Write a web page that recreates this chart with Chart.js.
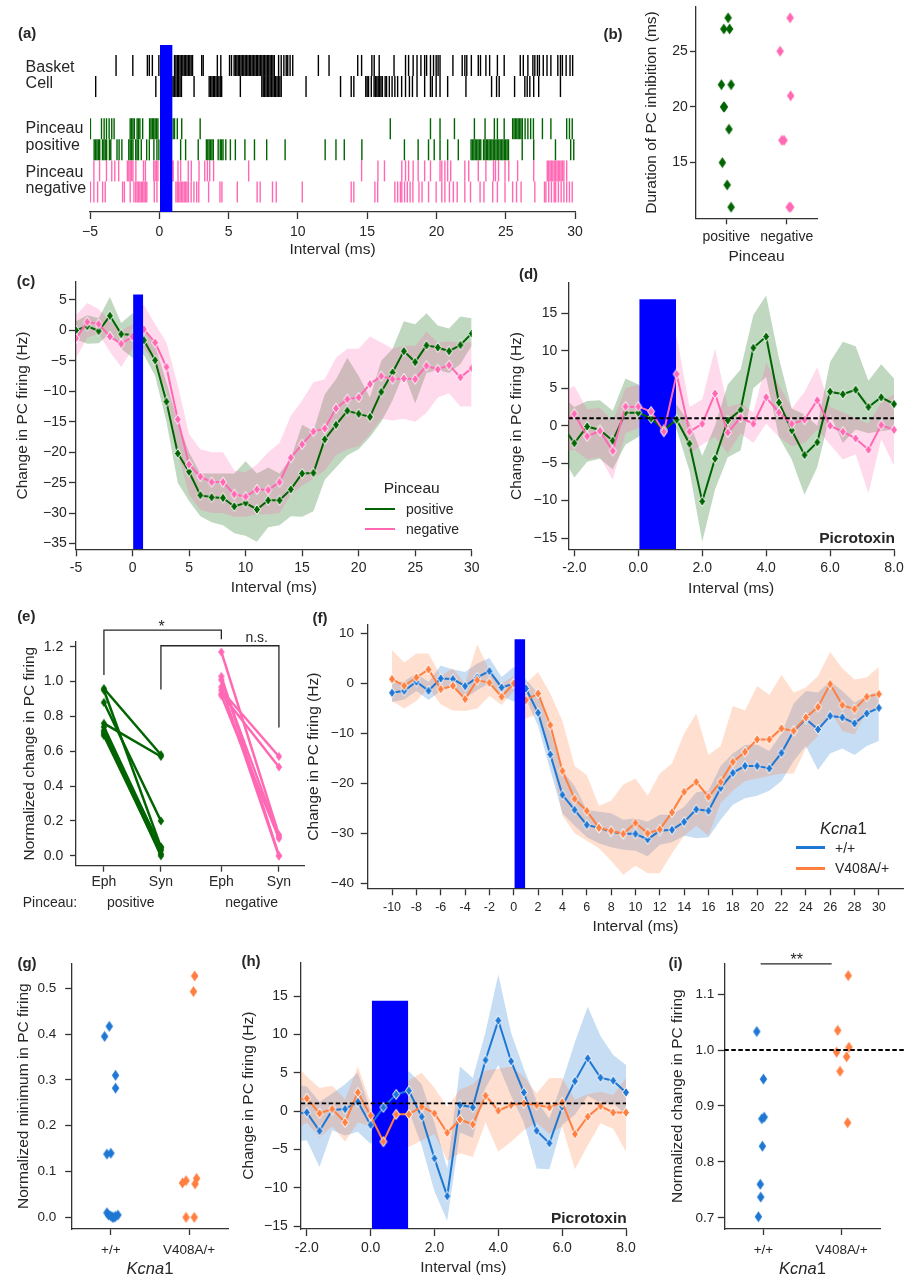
<!DOCTYPE html>
<html><head><meta charset="utf-8">
<script src="https://cdn.jsdelivr.net/npm/chart.js@4.4.1/dist/chart.umd.min.js"></script>
<style>
html,body{margin:0;padding:0;background:#fff;}
#fig{position:relative;width:904px;height:1276px;overflow:hidden;font-family:'Liberation Sans',Arial,Helvetica,sans-serif;color:#262626;}
#fig canvas{position:absolute;left:0;top:0;}
.t{position:absolute;white-space:nowrap;line-height:1;}
.lg{position:absolute;height:2.5px;}
</style></head><body><div id="fig"></div>
<script>
// ---------------- DATA ----------------
// (a) raster spike times (ms)
const aBasket1 = [-3.12,-1.91,-0.86,-0.72,-0.5,-0.03,0.66,1.1,1.2,1.3,1.4,1.5,1.6,1.7,1.8,1.9,2.0,2.1,2.2,2.3,2.4,3.06,3.17,4.19,4.44,5.07,5.21,5.4,5.5,5.6,5.7,5.8,5.9,6.0,6.1,6.2,6.3,6.4,6.5,6.6,6.7,6.8,6.9,7.0,7.1,7.2,7.3,7.4,7.5,7.6,7.7,7.8,7.9,8.0,8.1,8.2,8.3,8.61,8.8,8.99,9.16,9.27,9.44,9.63,11.48,12.25,14.32,14.6,15.34,15.51,15.87,16.94,17.77,17.99,18.32,18.6,18.88,19.15,19.29,19.57,19.79,19.98,20.12,20.26,21.19,21.86,22.05,22.19,22.52,23.02,23.18,23.57,23.84,24.4,24.89,26.05,26.27,26.6,26.96,27.1,27.29,27.43,27.71,27.98,28.26,28.76,28.95,29.09,29.36,29.64,29.83];
const aBasket2 = [-4.59,-0.25,0.8,0.9,1.0,1.1,1.2,1.3,1.4,1.5,1.6,2.51,3.6,3.7,3.8,3.9,4.0,4.1,4.2,4.3,4.4,4.5,5.85,7.4,7.5,7.6,7.7,7.8,7.9,8.0,8.1,8.2,8.3,8.4,8.5,8.6,8.7,8.8,10.59,13.08,13.85,14.04,14.9,15.0,15.1,15.3,15.5,15.6,15.7,15.8,15.9,16.0,16.1,16.3,16.4,16.6,16.8,17.0,17.2,17.49,17.77,18.05,18.27,18.6,19.15,19.57,19.7,19.98,20.26,20.81,22.13,23.98,24.34,24.53,25.64,26.38,26.55,26.74,27.02,27.38,28.95];
const aPos1 = [-4.97,-4.17,-3.98,-3.81,-3.62,-3.43,-3.26,-2.1,-2.0,-1.9,-1.8,-1.6,-1.5,-1.4,-1.2,-0.7,-0.6,-0.5,-0.4,-0.3,-0.2,-0.1,0.6,0.8,1.0,1.1,1.3,1.62,2.95,16.67,19.57,20.26,21.3,22.74,23.51,24.18,24.4,24.89,25.5,25.6,25.7,25.8,25.9,26.0,26.1,26.2,26.4,26.6,26.8,27.0,27.65,28.26,29.4,29.6,29.8];
const aPos2 = [-4.7,-4.6,-4.5,-4.4,-4.3,-4.1,-4.0,-3.9,-3.8,-3.6,-3.5,-3.05,-2.9,-2.7,-2.2,-2.1,-2.0,-1.9,-1.7,-1.6,-1.5,-1.3,-0.91,-0.72,-0.39,-0.17,-0.03,0.77,1.54,1.9,2.81,3.4,3.5,3.6,3.7,3.8,3.9,4.25,4.4,4.5,4.6,4.8,5.13,5.49,6.18,6.87,7.75,9.08,11.97,12.75,13.35,14.62,17.69,18.68,19.43,19.84,20.26,20.81,21.58,22.5,22.6,22.7,22.8,22.9,23.0,23.1,23.2,23.4,23.5,23.6,23.7,23.8,23.9,24.0,24.1,24.2,24.3,24.4,24.5,24.6,24.7,24.8,24.9,25.0,25.1,25.2,26.19,27.02,28.59,29.69,29.91];
const aNeg1 = [-4.72,-4.31,-3.81,-3.43,-3.21,-2.93,-2.3,-2.2,-2.1,-2.0,-1.9,-1.69,-1.14,-1.0,-0.4,-0.3,-0.2,-0.1,0.9,1.0,1.35,1.54,2.09,2.31,2.87,3.28,3.47,3.64,3.92,6.45,14.6,15.78,16.25,17.5,17.77,17.99,18.32,18.68,19.15,19.57,20.26,20.39,20.61,20.81,21.03,22.05,22.33,23.02,23.57,24.12,24.26,24.48,24.95,25.22,25.86,27.02,28.0,28.1,28.2,28.3,28.4,28.5,28.6,28.7,28.8,28.9,29.0,29.1,29.2,29.4];
const aNeg2 = [-4.97,-4.72,-4.45,-4.09,-3.9,-2.65,-2.52,-2.1,-1.83,-1.7,-1.6,-1.5,-1.4,-1.3,-1.2,-1.1,-1.0,-0.9,-0.36,-0.17,0.38,0.8,1.2,1.3,1.4,1.5,1.6,1.7,1.8,1.9,2.0,2.1,2.3,2.5,2.7,2.85,3.56,4.38,4.52,5.63,7.06,7.28,8.17,8.44,10.32,13.85,14.04,15.56,15.76,17.0,17.2,17.4,17.5,17.7,17.9,18.1,18.3,18.74,18.96,19.43,19.98,20.39,20.61,20.94,21.22,21.5,22.05,22.46,23.15,23.43,24.06,24.4,24.95,25.5,25.78,26.11,27.1,27.8,27.9,28.1,28.3,28.5,28.6,28.8,29.0,29.2,29.4,29.6,29.8];
const aXTicks = [-5,0,5,10,15,20,25,30];
const aXLabels = ['\u22125','0','5','10','15','20','25','30'];

// (b) duration of PC inhibition (ms), strip plot with jitter
const bCategories = ['positive','negative'];
const bPos = [28,27,27,22,22,20,20,18,15,13,11];
const bPosJit = [0.03,-0.04,0.055,-0.08,0.08,-0.045,-0.03,0.045,-0.065,0.015,0.08];
const bNeg = [28,25,21,17,17,11,11];
const bNegJit = [0.055,-0.11,0.065,-0.08,-0.045,0.04,0.065];
const bYTicks = [15,20,25];
const bYLabels = ['15','20','25'];

// (c) change in PC firing, pinceau positive / negative
const cX = [-5,-4,-3,-2,-1,0,1,2,3,4,5,6,7,8,9,10,11,12,13,14,15,16,17,18,19,20,21,22,23,24,25,26,27,28,29,30];
const cPos = [0,0.7,-0.1,2.4,-0.6,-0.75,-1.6,-4.9,-11.7,-20.2,-23.2,-27.05,-27.4,-27.5,-28.9,-28.3,-29.4,-27.9,-27.9,-26.1,-23.5,-23.4,-17.9,-15.5,-13.2,-13.7,-14.2,-10.1,-6.9,-3.4,-5.2,-2.45,-2.8,-3.4,-2.4,-0.5];
const cPosHi = [1.5,2.5,2.0,5.5,1.2,2.8,0.5,-2.5,-8.5,-15,-20,-23.5,-23.5,-23.5,-23.5,-21.5,-23.5,-22.5,-23.5,-21,-15.5,-16.5,-10.5,-8,-4.5,-7.5,-11,-5,-3,1.5,1,2.8,0.8,0.3,2.3,2];
const cPosLo = [-1.5,-2.2,-2.1,-0.5,-3,-4.5,-4.0,-7.5,-15,-25,-28,-30.5,-31.5,-32,-33.3,-33.7,-34.7,-32.3,-32,-30.5,-30.6,-29.7,-24.5,-22.5,-20.5,-19.5,-17.5,-15,-11.5,-7,-12,-7,-6.5,-7,-5.5,-2.5];
const cNeg = [-1.3,1.4,1.05,-1.0,-2.2,-1.0,0.2,-2.0,-6.0,-14.6,-22.0,-24.0,-24.9,-24.9,-26.9,-27.3,-26.1,-26.2,-24.9,-20.9,-18.7,-16.6,-16.1,-12.8,-11.3,-11.0,-8.8,-7.5,-8.0,-7.9,-8.0,-5.8,-6.4,-5.7,-7.7,-6.2];
const cNegHi = [2.5,4.5,3.5,1.5,0,1,4.2,1,-2,-9,-17,-19.5,-20,-20,-23,-23.3,-22,-20,-18.5,-14,-11.5,-8.5,-8,-4.5,-3,-3,-1,-2,-3,-2.5,-2.5,-0.2,-2,-1.8,-2,-2];
const cNegLo = [-4.5,-1.2,-0.5,-3.5,-6,-3,-3,-5.5,-10,-20,-27,-29.5,-30,-30,-30.6,-30.6,-30.2,-30.2,-30,-27,-25.5,-24.3,-23,-20.5,-19.5,-19,-17,-14.5,-14.8,-14.5,-15,-13.5,-11,-10.3,-12.5,-12.5];
const cXTicks = [-5,0,5,10,15,20,25,30];
const cXLabels = ['-5','0','5','10','15','20','25','30'];
const cYTicks = [-35,-30,-25,-20,-15,-10,-5,0,5];
const cYLabels = ['\u221235','\u221230','\u221225','\u221220','\u221215','\u221210','\u22125','0','5'];

// (d) picrotoxin, pinceau positive / negative
const dX = [-2.4,-2.0,-1.6,-1.2,-0.8,-0.4,0.0,0.4,0.8,1.2,1.6,2.0,2.4,2.8,3.2,3.6,4.0,4.4,4.8,5.2,5.6,6.0,6.4,6.8,7.2,7.6,8.0];
const dPos = [0.1,-2.33,-0.1,-0.56,-2.0,1.75,1.75,1.0,-0.55,0.8,-2.4,-10.1,-4.4,0.7,2.1,10.4,11.9,3.1,-0.6,-3.9,-2.2,4.55,4.2,4.8,2.5,3.8,2.9];
const dPosHi = [4,2.5,3.3,3.4,2,6.3,5.5,3,2,2.8,0.5,-4,0,5.5,7.5,14.8,17.4,9,2.3,1.5,0,8.5,11.2,10.6,6,8.2,6.3];
const dPosLo = [-4,-6.9,-4.8,-4.4,-5.8,-2.5,-1.5,0.3,-2,-0.5,-6,-15.5,-8.5,-4.2,-3.3,5,6.5,-1.5,-4.5,-9.2,-5.5,1.5,-2.3,-0.5,-1,-0.7,-0.5];
const dNeg = [0.1,1.6,-1.4,-0.7,-3.35,2.55,2.55,1.9,-0.8,6.9,-0.8,0.25,4.3,-0.9,1.1,0.25,3.8,1.75,0.25,0.8,3.4,0.0,-0.8,-1.7,-3.2,0.1,-0.55];
const dNegHi = [4.5,5.3,2.2,2.4,0.6,5,5.5,3.2,1.5,12,2.5,3.5,10.3,2.5,3,1.8,8.4,5.5,2.3,4.5,7.8,2.5,1.8,1,0.3,3.1,4.2];
const dNegLo = [-3.5,-3.2,-4.5,-4.2,-7.2,-1,-0.3,0.7,-1.7,2,-3.7,-2.5,-1.5,-3.7,-1,-2.3,0.3,-1.5,-2.7,-2.3,-0.5,-2.5,-4.5,-3.8,-9,-1.8,-5.3];
const pxXTicks = [-2,0,2,4,6,8];
const pxXLabels = ['-2.0','0.0','2.0','4.0','6.0','8.0'];
const pxYTicks = [-15,-10,-5,0,5,10,15];
const pxYLabels = ['\u221215','\u221210','\u22125','0','5','10','15'];
const baseline = 1;

// (e) normalized change, paired Eph -> Syn
const eCategories = ['Eph','Syn','Eph','Syn'];
const eCatPos = [0,1,2.06,3.07];
const ePosEph = [0.96,0.95,0.88,0.76,0.74,0.72,0.71,0.70,0.69];
const ePosSyn = [0.58,0.05,0.20,0.57,0.04,0.03,0.00,0.05,0.01];
const eNegEph = [1.17,1.03,1.01,0.97,0.95,0.93,0.92];
const eNegSyn = [0.12,0.00,0.11,0.00,0.57,0.51,0.10];
const eYTicks = [0,0.2,0.4,0.6,0.8,1.0,1.2];
const eYLabels = ['0.0','0.2','0.4','0.6','0.8','1.0','1.2'];

// (f) Kcna1 +/+ vs V408A/+
const fX = [-10,-9,-8,-7,-6,-5,-4,-3,-2,-1,0,1,2,3,4,5,6,7,8,9,10,11,12,13,14,15,16,17,18,19,20,21,22,23,24,25,26,27,28,29,30];
const fWT = [-1.87,-1.47,0.33,-1.47,1.0,0.87,-0.53,1.2,2.47,-0.8,0,-1.0,-5.87,-14.2,-22.3,-25.3,-28.3,-28.9,-29.7,-30.1,-30.1,-31.2,-29.5,-29.3,-27.7,-25.2,-25.5,-20.9,-17.9,-16.5,-16.5,-17.0,-13.9,-9.5,-7.1,-9.2,-6.5,-6.8,-8.0,-6.0,-4.9];
const fWTHi = [0,0.5,2.0,0.3,3.6,2.8,2.3,4.0,5.1,1.3,3.3,0.8,-2.0,-9.5,-17.5,-20.5,-25.3,-25.7,-26.0,-27.3,-27.0,-27.7,-26.3,-26.3,-24.7,-21.8,-21.5,-16.5,-14.0,-12.3,-12.2,-13.5,-10.0,-4.0,-1.5,-1.8,0.5,-1.5,-3.8,-2.5,-1.5];
const fWTLo = [-3.7,-3.2,-1.5,-3.3,-1.5,-0.6,-3.0,-1.3,0.0,-2.5,-3.6,-3.0,-8.5,-17.3,-26.0,-28.5,-30.8,-32.0,-32.8,-33.3,-33.5,-34.6,-32.3,-31.8,-30.5,-31.0,-30.8,-27.3,-24.3,-23.0,-22.5,-21.5,-19.5,-15.5,-12.5,-17.3,-14.0,-13.0,-14.3,-12.5,-11.5];
const fMut = [0.87,-0.47,1.2,2.8,-1.13,-0.47,-3.13,0.67,0.13,-2.67,0,-3.33,-2.0,-8.33,-17.5,-23.1,-25.5,-28.9,-29.5,-30.1,-27.9,-30.0,-29.2,-25.8,-21.7,-19.7,-22.7,-19.7,-15.7,-13.7,-11.2,-11.2,-9.0,-9.5,-6.8,-4.7,-0.13,-4.33,-5.13,-2.67,-2.13];
const fMutHi = [6.7,4.2,6.0,6.0,1.5,3.0,0,7.8,2.7,0,1.5,0,2.3,-2.0,-7.5,-16.5,-18.3,-24.5,-23.5,-20.2,-19.0,-22.5,-18.0,-16.0,-10.0,-6.0,-14.3,-12.5,-4.5,-5.4,-0.5,-2.3,1.7,-1.8,-0.8,1.5,6.3,3.0,0.8,1.2,3.3];
const fMutLo = [-3.5,-5.0,-3.5,-0.8,-4.2,-5.4,-5.5,-5.0,-2.5,-4.3,-1.5,-7.0,-6.0,-13.5,-26.5,-30.0,-31.5,-33.0,-35.5,-38.3,-36.5,-38.0,-38.0,-34.0,-30.5,-28.5,-30.5,-24.0,-21.5,-19.5,-19.0,-18.5,-18.0,-18.0,-13.0,-10.5,-5.5,-9.5,-10.2,-5.5,-5.3];
const fXTicks = [-10,-8,-6,-4,-2,0,2,4,6,8,10,12,14,16,18,20,22,24,26,28,30];
const fXLabels = ['-10','-8','-6','-4','-2','0','2','4','6','8','10','12','14','16','18','20','22','24','26','28','30'];
const fYTicks = [-40,-30,-20,-10,0,10];
const fYLabels = ['\u221240','\u221230','\u221220','\u221210','0','10'];

// (g) normalized minimum
const gCategories = ['+/+','V408A/+'];
const gWT = [0.395,0.417,0.310,0.282,0.138,0.140,0.010,0.005,0.003,0.000,0.002,0.005,0.000];
const gWTJit = [-0.08,-0.02,0.06,0.06,-0.05,0.0,-0.05,-0.03,0.0,0.04,0.06,0.09,0.02];
const gMut = [0.527,0.493,0.075,0.080,0.073,0.085,0.000,0.000];
const gMutJit = [0.07,0.055,-0.085,-0.04,0.075,0.095,-0.04,0.065];
const gYTicks = [0,0.1,0.2,0.3,0.4,0.5];
const gYLabels = ['0.0','0.1','0.2','0.3','0.4','0.5'];

// (h) picrotoxin, Kcna1
const hX = [-2.4,-2.0,-1.6,-1.2,-0.8,-0.4,0.0,0.4,0.8,1.2,1.6,2.0,2.4,2.8,3.2,3.6,4.0,4.4,4.8,5.2,5.6,6.0,6.4,6.8,7.2,7.6,8.0];
const hWT = [-0.4,-0.17,-2.6,0.13,0.26,1.2,-1.8,0.48,2.17,2.65,-0.74,-6.17,-11.1,0.78,0.48,6.65,11.8,6.5,2.43,-2.57,-4.2,0.57,3.9,6.87,4.35,3.96,2.43];
const hWTHi = [3.5,3.2,1.2,2.3,3.5,5.0,0,2.2,3.0,5.2,3.5,-1.5,-7.5,5.8,4.3,10.3,17.8,10.2,5.5,1.3,-1.0,3.8,9.0,13.6,9.8,7.3,6.0];
const hWTLo = [-4,-3.8,-7.3,-2.5,-3.2,-2.7,-4.3,-1.5,1.3,0,-4.5,-10.5,-14.3,-2.8,-3.5,3.0,6.0,2.0,-1.5,-7.5,-7.6,-1.8,-0.5,2.0,1.0,1.0,-0.5];
const hMut = [1.4,1.65,-0.3,0.26,-1.48,2.43,-0.6,-4.0,-0.43,-0.43,0.57,-0.3,-2.83,-1.1,-1.74,2.0,0.04,0.78,1.0,0.78,0.48,1.13,-3.0,-0.74,0.65,-0.2,-0.2];
const hMutHi = [6.3,4.5,3.0,3.3,1.5,5.8,1.0,-1.5,2.0,4.0,5.0,3.0,0.5,2.8,3.5,5.3,5.5,5.8,4.5,2.3,4.3,4.3,1.5,2.2,2.5,2.1,4.3];
const hMutLo = [-2.5,-1.5,-3.5,-2.0,-4.0,-1.5,-2.0,-5.0,-2.5,-4.7,-3.8,-3.0,-6.5,-5.5,-6.0,-1.5,-5.3,-4.0,-2.5,-1.5,-3.0,-2.0,-7.6,-4.5,-1.6,-2.3,-5.3];

// (i) normalized change
const iWT = [1.033,0.948,0.877,0.880,0.828,0.760,0.737,0.702];
const iWTJit = [-0.085,0.0,-0.02,0.01,-0.013,-0.04,-0.034,-0.064];
const iMut = [1.133,1.035,0.996,1.005,0.988,0.962,0.870];
const iMutJit = [0.085,-0.05,-0.064,0.094,0.064,-0.02,0.077];
const iYTicks = [0.7,0.8,0.9,1.0,1.1];
const iYLabels = ['0.7','0.8','0.9','1.0','1.1'];

// ---------------- STYLE / HELPERS ----------------
const FW = 904, FH = 1276;
const fig = document.getElementById('fig');
const GREEN = '#006400', PINK = '#ff69b4', BLUE = '#1f77d4', ORANGE = '#ff7f41', STIM = '#0000ff', INK = '#262626';
Chart.defaults.font.family = "'Liberation Sans', Arial, Helvetica, sans-serif";
Chart.defaults.color = INK;
function rgba(hex, a) { const n = parseInt(hex.slice(1), 16); return `rgba(${n >> 16},${(n >> 8) & 255},${n & 255},${a})`; }
function diamond(color, w, h, edge) {
  const pad = edge ? 1.5 : 0.5;
  const c = document.createElement('canvas');
  c.width = Math.ceil(w + 2 * pad); c.height = Math.ceil(h + 2 * pad);
  const g = c.getContext('2d'); const cx = c.width / 2, cy = c.height / 2;
  g.beginPath(); g.moveTo(cx, cy - h / 2); g.lineTo(cx + w / 2, cy); g.lineTo(cx, cy + h / 2); g.lineTo(cx - w / 2, cy); g.closePath();
  g.fillStyle = color; g.fill();
  if (edge) { g.strokeStyle = '#fff'; g.lineWidth = edge; g.stroke(); }
  return c;
}
const mk = {
  gL: diamond(GREEN, 7, 10, 1), pL: diamond(PINK, 7, 10, 1), bL: diamond(BLUE, 7, 10, 1), oL: diamond(ORANGE, 7, 10, 1),
  gS: diamond(GREEN, 7.5, 11, 0), pS: diamond(PINK, 7.5, 11, 0), bS: diamond(BLUE, 7.5, 11, 0), oS: diamond(ORANGE, 7.5, 11, 0),
  gE: diamond(GREEN, 6.5, 9, 0), pE: diamond(PINK, 6.5, 9, 0)
};
function pts(xs, ys) { return xs.map((x, i) => ({ x, y: ys[i] })); }
function band(xs, hi, lo, color, order, clip) {
  return [
    { data: pts(xs, hi), borderWidth: 0, pointRadius: 0, fill: '+1', backgroundColor: rgba(color, 0.25), order, clip },
    { data: pts(xs, lo), borderWidth: 0, pointRadius: 0, fill: false, order, clip }
  ];
}
function line(xs, ys, color, marker, order, clip) {
  return { data: pts(xs, ys), borderColor: color, borderWidth: 2, pointStyle: marker, pointRadius: 4, fill: false, order, clip, tension: 0 };
}
function stim(x0, x1, top, order) {
  return { data: [{ x: x0, y: top }, { x: x1, y: top }], borderWidth: 0, pointRadius: 0, fill: 'start', backgroundColor: STIM, order };
}
function dashed(x0, x1, y, order, clip) {
  return { data: [{ x: x0, y }, { x: x1, y }], borderColor: '#000', borderWidth: 1.8, borderDash: [4.5, 2.5], pointRadius: 0, fill: false, order, clip };
}
function strip(vals, jit, center, marker) {
  return { data: vals.map((v, i) => ({ x: center + jit[i], y: v })), showLine: false, pointStyle: marker, pointRadius: 5, order: 1 };
}
function axis(o) {
  return {
    type: 'linear', bounds: 'data', min: o.min, max: o.max,
    afterBuildTicks: s => { s.ticks = (o.ticks || []).map(v => ({ value: v })); },
    afterFit: s => { if (o.w != null) s.width = o.w; if (o.h != null) s.height = o.h; s.paddingLeft = 0; s.paddingRight = 0; s.paddingTop = 0; s.paddingBottom = 0; },
    ticks: { display: !!(o.ticks && o.ticks.length), autoSkip: false, maxRotation: 0, minRotation: 0, padding: o.pad ?? 3, font: { size: o.size ?? 13.5 }, color: INK, callback: (v, i) => (o.labels || [])[i] },
    grid: { display: o.line !== false, drawOnChartArea: false, drawTicks: true, tickLength: o.tl ?? 7, tickColor: '#333', tickWidth: 1.3, color: '#333' },
    border: { display: o.line !== false, color: '#333', width: 1.3 },
    title: { display: !!o.title, text: o.title || '', font: { size: 15.5, lineHeight: 1 }, padding: 0, color: INK }
  };
}
const TLH = 15.5;
function panel(spec) {
  const c = document.createElement('canvas'); c.width = FW; c.height = FH;
  c.style.width = FW + 'px'; c.style.height = FH + 'px'; fig.appendChild(c);
  const b = spec.box;
  const padLeft = spec.yTitleX != null ? spec.yTitleX - TLH / 2 : b.L - 30;
  const bottom = spec.xTitleY != null ? spec.xTitleY + TLH / 2 : Math.min(FH, b.B + 40);
  new Chart(c, {
    type: 'line',
    data: { datasets: spec.datasets },
    options: {
      responsive: false, devicePixelRatio: 1, animation: false, events: [],
      layout: { autoPadding: false, padding: { left: padLeft, top: b.T, right: FW - b.R, bottom: FH - bottom } },
      plugins: { legend: { display: false }, tooltip: { enabled: false } },
      scales: { x: axis(Object.assign({}, spec.x, { h: bottom - b.B })), y: axis(Object.assign({}, spec.y, { w: b.L - padLeft })) }
    },
    plugins: spec.plugins || []
  });
}
function polyPlugin(polys, width) {
  return { id: 'poly', afterDatasetsDraw(chart) {
    const { ctx, scales: { x, y } } = chart; ctx.save(); ctx.strokeStyle = INK; ctx.lineWidth = width;
    polys.forEach(p => { ctx.beginPath(); p.forEach(([vx, vy], i) => { const px = x.getPixelForValue(vx), py = y.getPixelForValue(vy); if (i) ctx.lineTo(px, py); else ctx.moveTo(px, py); }); ctx.stroke(); });
    ctx.restore(); } };
}
function txt(x, y, html, size, o = {}) {
  const d = document.createElement('div'); d.className = 't'; d.innerHTML = html;
  d.style.left = x + 'px'; d.style.top = y + 'px'; d.style.fontSize = size + 'px';
  if (o.bold) d.style.fontWeight = 'bold';
  const ax = o.align === 'left' ? '0' : o.align === 'right' ? '-100%' : '-50%';
  d.style.transform = `translate(${ax},-50%)`;
  fig.appendChild(d);
}
function legLine(x0, x1, y, color) {
  const d = document.createElement('div'); d.className = 'lg';
  d.style.left = x0 + 'px'; d.style.width = (x1 - x0) + 'px'; d.style.top = (y - 1.25) + 'px'; d.style.background = color; fig.appendChild(d);
}

// ---------------- (a) raster ----------------
const aRows = [
  { times: aBasket1, row: 6, color: '#000' }, { times: aBasket2, row: 5, color: '#000' },
  { times: aPos1, row: 3, color: GREEN }, { times: aPos2, row: 2, color: GREEN },
  { times: aNeg1, row: 1, color: PINK }, { times: aNeg2, row: 0, color: PINK }
];
panel({
  box: { L: 90, T: 45, R: 575, B: 212 }, xTitleY: 250,
  x: { min: -5, max: 30, ticks: aXTicks, labels: aXLabels, title: 'Interval (ms)', pad: 4.3, size: 14 },
  y: { min: -0.95, max: 6.97, line: false },
  datasets: [stim(0.05, 0.96, 6.97, 1)].concat(aRows.map(r => ({
    data: r.times.map(t => ({ x: t, y: r.row })), showLine: false, pointStyle: 'line', pointRotation: 90,
    pointRadius: 10.5, pointBorderWidth: 1.4, pointBorderColor: r.color, borderColor: r.color, order: 5
  })))
});

// ---------------- (b) ----------------
panel({
  box: { L: 696, T: 6.7, R: 817, B: 218.3 }, yTitleX: 651.7, xTitleY: 256.7,
  x: { min: -0.5, max: 1.5, ticks: [0, 1], labels: bCategories, title: 'Pinceau', pad: 4.3, tl: 6, size: 14 },
  y: { min: 10, max: 29, ticks: bYTicks, labels: bYLabels, title: 'Duration of PC inhibition (ms)', pad: 2.3, tl: 6, size: 14 },
  datasets: [strip(bPos, bPosJit, 0, mk.gS), strip(bNeg, bNegJit, 1, mk.pS)]
});

// ---------------- (c) ----------------
panel({
  box: { L: 76, T: 281.7, R: 471.7, B: 549.3 }, yTitleX: 23, xTitleY: 588,
  x: { min: -5, max: 30, ticks: cXTicks, labels: cXLabels, title: 'Interval (ms)', pad: 3.6, size: 14 },
  y: { min: -35.94, max: 8.0, ticks: cYTicks, labels: cYLabels, title: 'Change in PC firing (Hz)', pad: 2.3, size: 14 },
  datasets: [stim(0.05, 0.95, 5.9, 1), line(cX, cNeg, PINK, mk.pL, 3), line(cX, cPos, GREEN, mk.gL, 4)]
    .concat(band(cX, cNegHi, cNegLo, PINK, 8), band(cX, cPosHi, cPosLo, GREEN, 9))
});
txt(411.7, 488.3, 'Pinceau', 15.5);
legLine(365, 395, 509, GREEN); txt(406, 509, 'positive', 14, { align: 'left' });
legLine(365, 395, 529, PINK); txt(406, 529, 'negative', 14, { align: 'left' });

// ---------------- (d) ----------------
const clipL = { left: 0, top: 8, right: 8, bottom: 8 };
panel({
  box: { L: 568.3, T: 282.7, R: 894, B: 549.3 }, yTitleX: 516.7, xTitleY: 588.3,
  x: { min: -2.19, max: 8.0, ticks: pxXTicks, labels: pxXLabels, title: 'Interval (ms)', pad: 3.6, size: 14 },
  y: { min: -16.5, max: 19.1, ticks: pxYTicks, labels: pxYLabels, title: 'Change in PC firing (Hz)', pad: 4, size: 14 },
  datasets: [dashed(-2.19, 8.0, baseline, 0), line(dX, dNeg, PINK, mk.pL, 2, clipL), line(dX, dPos, GREEN, mk.gL, 3, clipL),
    stim(0.03, 1.18, 16.9, 5)].concat(band(dX, dNegHi, dNegLo, PINK, 8, 0), band(dX, dPosHi, dPosLo, GREEN, 9, 0))
});
txt(895, 538.3, 'Picrotoxin', 15.5, { bold: true, align: 'right' });

// ---------------- (e) ----------------
const ePairs = [];
ePosEph.forEach((v, i) => ePairs.push({ data: [{ x: eCatPos[0], y: v }, { x: eCatPos[1], y: ePosSyn[i] }], borderColor: GREEN, borderWidth: 2.5, pointStyle: mk.gE, pointRadius: 4, fill: false, order: 2 }));
eNegEph.forEach((v, i) => ePairs.push({ data: [{ x: eCatPos[2], y: v }, { x: eCatPos[3], y: eNegSyn[i] }], borderColor: PINK, borderWidth: 2.5, pointStyle: mk.pE, pointRadius: 4, fill: false, order: 2 }));
panel({
  box: { L: 76, T: 641.7, R: 304, B: 865.7 }, yTitleX: 30,
  x: { min: -0.49, max: 3.51, ticks: eCatPos, labels: eCategories, pad: 1.6, tl: 6, size: 14 },
  y: { min: -0.057, max: 1.229, ticks: eYTicks, labels: eYLabels, title: 'Normalized change in PC firing', pad: 6.7, tl: 6, size: 14 },
  datasets: ePairs,
  plugins: [polyPlugin([
    [[eCatPos[0], 1.0375], [eCatPos[0], 1.296], [eCatPos[2], 1.296], [eCatPos[2], 1.2425]],
    [[eCatPos[1], 0.955], [eCatPos[1], 1.2057], [eCatPos[3], 1.2057], [eCatPos[3], 0.737]]
  ], 1.3)]
});
txt(161.7, 627, '*', 16);
txt(256.7, 637.3, 'n.s.', 14);
txt(50, 901.7, 'Pinceau:', 14); txt(130.7, 901.7, 'positive', 14); txt(251.7, 901.7, 'negative', 14);

// ---------------- (f) ----------------
panel({
  box: { L: 367.7, T: 625, R: 903.2, B: 888.3 }, yTitleX: 314, xTitleY: 926.7,
  x: { min: -12, max: 32, ticks: fXTicks, labels: fXLabels, title: 'Interval (ms)', pad: 4.9, size: 12.5 },
  y: { min: -41, max: 11.7, ticks: fYTicks, labels: fYLabels, title: 'Change in PC firing (Hz)', pad: 6.7, size: 13.5 },
  datasets: [stim(0.05, 0.95, 8.87, 1), line(fX, fMut, ORANGE, mk.oL, 3), line(fX, fWT, BLUE, mk.bL, 4)]
    .concat(band(fX, fMutHi, fMutLo, ORANGE, 8), band(fX, fWTHi, fWTLo, BLUE, 9))
});
txt(843.3, 827.7, '<i>Kcna</i>1', 16.5);
legLine(796, 825, 847.7, BLUE); txt(835, 847.7, '+/+', 14, { align: 'left' });
legLine(796, 825, 868.3, ORANGE); txt(835, 868.3, 'V408A/+', 14, { align: 'left' });

// ---------------- (g) ----------------
panel({
  box: { L: 71.7, T: 963.3, R: 228.3, B: 1229 }, yTitleX: 23.3,
  x: { min: -0.5, max: 1.5, ticks: [0, 1], labels: gCategories, pad: 6.9, tl: 6, size: 13.5 },
  y: { min: -0.0255, max: 0.5546, ticks: gYTicks, labels: gYLabels, title: 'Normalized minimum in PC firing', pad: 9, tl: 6.5, size: 13.5 },
  datasets: [strip(gWT, gWTJit, 0, mk.bS), strip(gMut, gMutJit, 1, mk.oS)]
});
txt(150, 1268, '<i>Kcna</i>1', 16.5);

// ---------------- (h) ----------------
panel({
  box: { L: 300.7, T: 962.3, R: 626, B: 1229 }, yTitleX: 248.3, xTitleY: 1268,
  x: { min: -2.19, max: 8.0, ticks: pxXTicks, labels: pxXLabels, title: 'Interval (ms)', pad: 3.9, size: 14 },
  y: { min: -15.39, max: 19.4, ticks: pxYTicks, labels: pxYLabels, title: 'Change in PC firing (Hz)', pad: 6, size: 14 },
  datasets: [dashed(-2.19, 8.0, baseline, 0), line(hX, hMut, ORANGE, mk.oL, 2, clipL), line(hX, hWT, BLUE, mk.bL, 3, clipL),
    stim(0.035, 1.18, 14.4, 5)].concat(band(hX, hMutHi, hMutLo, ORANGE, 8, 0), band(hX, hWTHi, hWTLo, BLUE, 9, 0))
});
txt(626.7, 1218.3, 'Picrotoxin', 15.5, { bold: true, align: 'right' });

// ---------------- (i) ----------------
panel({
  box: { L: 724.3, T: 963.3, R: 880.7, B: 1229 }, yTitleX: 677.3,
  x: { min: -0.5, max: 1.5, ticks: [0, 1], labels: gCategories, pad: 6.9, tl: 6, size: 13.5 },
  y: { min: 0.68, max: 1.155, ticks: iYTicks, labels: iYLabels, title: 'Normalized change in PC firing', pad: 3.6, tl: 6.5, size: 13.5 },
  datasets: [dashed(-0.5, 1.8, baseline, 0, false), strip(iWT, iWTJit, 0, mk.bS), strip(iMut, iMutJit, 1, mk.oS)],
  plugins: [polyPlugin([[[-0.035, 1.154], [0.873, 1.154]]], 1.3)]
});
txt(796.7, 959.5, '**', 16);
txt(802.5, 1268, '<i>Kcna</i>1', 16.5);

// ---------------- panel letters ----------------
[['(a)', 27.2, 32.3], ['(b)', 613, 33], ['(c)', 26, 280], ['(d)', 528.5, 273], ['(e)', 26.3, 615],
 ['(f)', 320, 617], ['(g)', 27, 962], ['(h)', 251, 960], ['(i)', 675.5, 962]].forEach(([s, x, y]) => txt(x, y, s, 15, { bold: true }));
// raster row labels
[['Basket', 66.7], ['Cell', 82.7], ['Pinceau', 128.3], ['positive', 145], ['Pinceau', 171.7], ['negative', 188.3]]
  .forEach(([s, y]) => txt(25.6, y, s, 16, { align: 'left' }));
</script></body></html>
